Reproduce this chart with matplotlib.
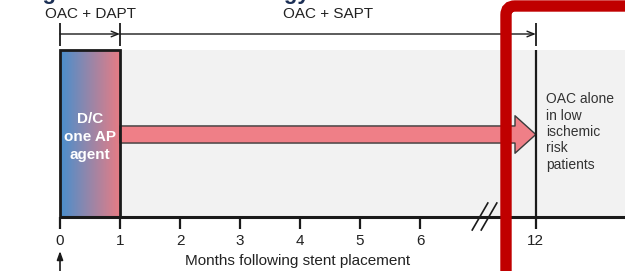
import numpy as np
import matplotlib.pyplot as plt
from matplotlib.patches import Rectangle, FancyBboxPatch
from matplotlib.colors import to_rgb

plt.rcParams['font.family'] = ['Liberation Sans', 'DejaVu Sans']

# timeline data (months)
tick_months = [0, 1, 2, 3, 4, 5, 6, 12]
phases = ["OAC + DAPT", "OAC + SAPT"]
phase_bounds = [(0, 1), (1, 12)]
box_text = "D/C\none AP\nagent"
end_text = "OAC alone\nin low\nischemic\nrisk\npatients"
xlabel = "Months following stent placement"

# axis break: 6..12 months squeezed
k = 1.93 / 6
def fwd(m):
    m = np.asarray(m, float)
    return np.where(m <= 6, m, 6 + (m - 6) * k)
def inv(p):
    p = np.asarray(p, float)
    return np.where(p <= 6, p, 6 + (p - 6) / k)

fig = plt.figure(figsize=(6.25, 2.71), dpi=100)
ax = fig.add_axes([0, 0, 1, 1])
ax.set_xscale('function', functions=(fwd, inv))
ax.set_xlim(-1, 16.62)
ax.set_ylim(271, 0)
ax.axis('off')

# cut-off title remnant (only descenders show)
ax.text(-1.6, -1.5, "Tailoring antithrombotic strategy", color='#1b2f55',
        fontsize=16, fontweight='bold', va='baseline', ha='left')

# grey background
ax.add_patch(Rectangle((1, 50), 16.62 - 1, 167, fc='#f2f2f2', ec='none', zorder=0))

# gradient box
c1, c2 = np.array(to_rgb('#4a8fcc')), np.array(to_rgb('#e87c84'))
t = np.linspace(0, 1, 100)
grad = (c1[None, :] * (1 - t[:, None]) + c2[None, :] * t[:, None])[None, :, :]
ax.imshow(grad, extent=(0, 1, 217, 50), aspect='auto', zorder=2, interpolation='bilinear')
ax.add_patch(Rectangle((0, 50), 1, 167, fc='none', ec='#1a1a1a', lw=2, zorder=4))
ax.text(0.5, 137, box_text, color='white', fontsize=11, fontweight='bold',
        ha='center', va='center', linespacing=1.35, zorder=5)

# big arrow
ax.annotate('', xy=(12, 134.5), xytext=(1, 134.5), zorder=3,
            arrowprops=dict(arrowstyle='simple,head_length=15,head_width=27,tail_width=12.3',
                            mutation_scale=1, fc='#ef7f87', ec='#3a3a3a', lw=1,
                            shrinkA=0, shrinkB=0))

# vertical line at 12 months
ax.vlines(12, 50, 217, color='#1a1a1a', lw=1.6, zorder=4)
ax.text(12.55, 132, end_text, fontsize=10, color='#333333', ha='left', va='center',
        linespacing=1.22)

# top phase bracket
ax.vlines([b[0] for b in phase_bounds] + [phase_bounds[-1][1]], 23, 46, color='#1a1a1a', lw=1.3)
for name, (a, b) in zip(phases, phase_bounds):
    ax.annotate('', xy=(b, 34), xytext=(a, 34),
                arrowprops=dict(arrowstyle='->,head_length=0.5,head_width=0.2', lw=1,
                                color='#1a1a1a', shrinkA=0, shrinkB=0))
    mid = inv((fwd(a) + fwd(b)) / 2)
    ax.text(float(mid), 14, name, fontsize=11, color='#222222', ha='center', va='center')

# baseline axis
ax.hlines(217, 0, 16.62, color='#1a1a1a', lw=2.2, zorder=5)
ax.vlines(tick_months, 217, 229, color='#1a1a1a', lw=1.6, zorder=5)
for m in tick_months:
    ax.text(m, 241, str(m), fontsize=11, color='#222222', ha='center', va='center')
ax.text(float(inv((fwd(0) + fwd(12)) / 2)), 261, xlabel, fontsize=11, color='#222222',
        ha='center', va='center')

# break marks
for p0 in [6.87, 7.02]:
    ax.plot(inv([p0, p0 + 0.26]), [230, 203], color='#1a1a1a', lw=1.2, zorder=6)

# stent placement arrow
ax.annotate('', xy=(0, 251), xytext=(0, 275),
            arrowprops=dict(arrowstyle='-|>,head_length=0.5,head_width=0.18', lw=1.2,
                            color='#1a1a1a', shrinkA=0, shrinkB=0))

# red highlight frame (display pixels, origin bottom-left)
fig.patches.append(FancyBboxPatch((506, -100), 300, 365, boxstyle='round,pad=0,rounding_size=9',
                                  transform=None, fc='none', ec='#c00000', lw=8.2, zorder=10))

fig.savefig('out.png', dpi=100)
